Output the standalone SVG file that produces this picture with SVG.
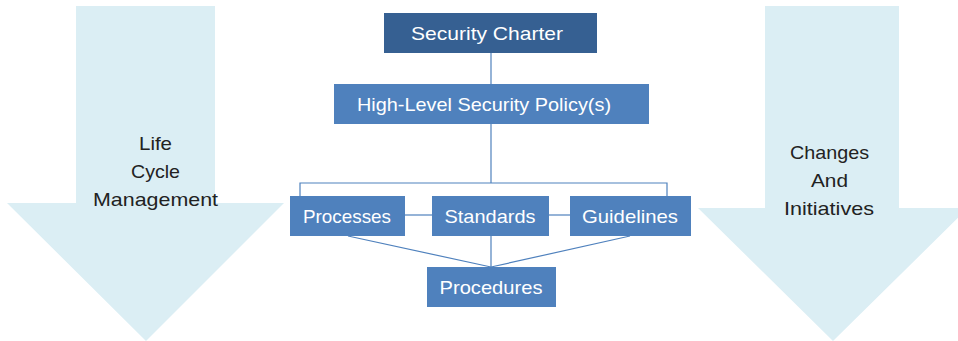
<svg xmlns="http://www.w3.org/2000/svg" width="958" height="341" viewBox="0 0 958 341">
<style>
.arrow{fill:#dbeef4;}
.box{fill:#4f81bd;}
.top{fill:#366092;}
.bt{font-family:"Liberation Sans",Arial,sans-serif;font-size:19px;fill:#ffffff;text-anchor:middle;}
.at{font-family:"Liberation Sans",Arial,sans-serif;font-size:19px;fill:#222222;text-anchor:middle;}
.conn{stroke:#4f81bd;stroke-width:1.2;fill:none;}
</style>
<rect width="958" height="341" fill="#ffffff"/>
<g id="arrow-left">
<polygon class="arrow" points="76,6 215,6 215,203 284,203 146,341 7,203 76,203"/>
<text class="at" x="155.5" y="150" textLength="33" lengthAdjust="spacingAndGlyphs">Life</text>
<text class="at" x="155.5" y="178" textLength="49" lengthAdjust="spacingAndGlyphs">Cycle</text>
<text class="at" x="155.5" y="206" textLength="125" lengthAdjust="spacingAndGlyphs">Management</text>
</g>
<g id="arrow-right">
<polygon class="arrow" points="765,6 899,6 899,208 968,208 833,341 698,208 765,208"/>
<text class="at" x="829.5" y="159" textLength="79" lengthAdjust="spacingAndGlyphs">Changes</text>
<text class="at" x="829.5" y="187" textLength="37" lengthAdjust="spacingAndGlyphs">And</text>
<text class="at" x="829" y="215" textLength="90" lengthAdjust="spacingAndGlyphs">Initiatives</text>
</g>
<g id="connectors">
<line class="conn" x1="491" y1="53" x2="491" y2="84"/>
<line class="conn" x1="491" y1="124" x2="491" y2="183"/>
<polyline class="conn" points="300,196 300,183 667,183 667,196"/>
<line class="conn" x1="405" y1="215" x2="432" y2="215"/>
<line class="conn" x1="549" y1="215" x2="570" y2="215"/>
<line class="conn" x1="348" y1="236" x2="491" y2="267"/>
<line class="conn" x1="491" y1="236" x2="491" y2="267"/>
<line class="conn" x1="630" y1="236" x2="491" y2="267"/>
</g>
<g id="security-charter">
<rect class="top" x="384" y="13" width="213" height="40"/>
<text class="bt" x="487" y="40" textLength="152" lengthAdjust="spacingAndGlyphs">Security  Charter</text>
</g>
<g id="high-level-policy">
<rect class="box" x="334" y="84" width="315" height="40"/>
<text class="bt" x="484" y="111" textLength="254" lengthAdjust="spacingAndGlyphs">High-Level Security Policy(s)</text>
</g>
<g id="processes">
<rect class="box" x="290" y="196" width="115" height="40"/>
<text class="bt" x="347" y="223" textLength="88" lengthAdjust="spacingAndGlyphs">Processes</text>
</g>
<g id="standards">
<rect class="box" x="432" y="196" width="117" height="40"/>
<text class="bt" x="490" y="223" textLength="91" lengthAdjust="spacingAndGlyphs">Standards</text>
</g>
<g id="guidelines">
<rect class="box" x="570" y="196" width="121" height="40"/>
<text class="bt" x="630" y="223" textLength="96" lengthAdjust="spacingAndGlyphs">Guidelines</text>
</g>
<g id="procedures">
<rect class="box" x="427" y="267" width="129" height="40"/>
<text class="bt" x="491" y="294" textLength="103" lengthAdjust="spacingAndGlyphs">Procedures</text>
</g>
</svg>
